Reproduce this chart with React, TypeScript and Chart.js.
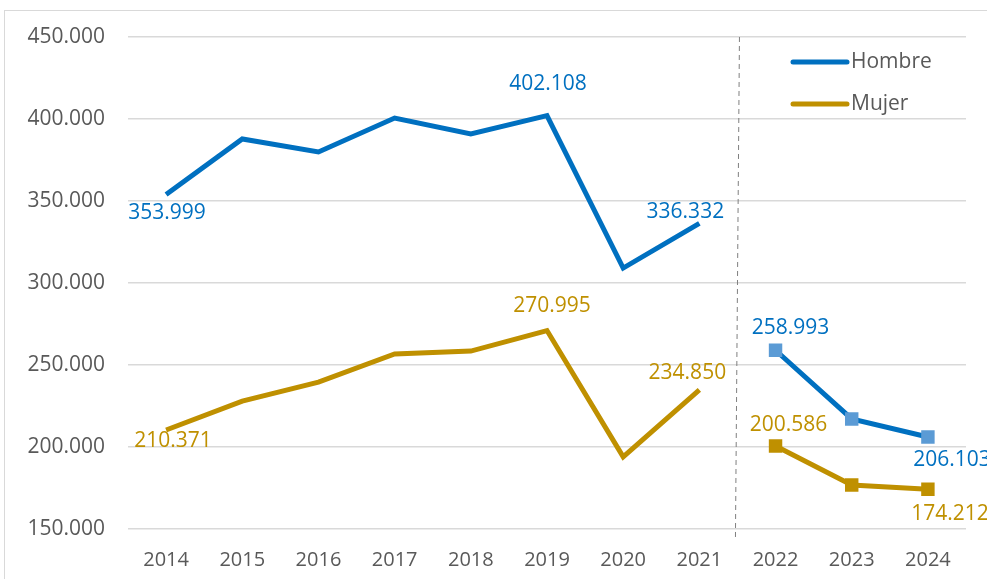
import React, { useEffect, useRef } from "react";
import { Chart, registerables } from "chart.js";

Chart.register(...registerables);

// ---- Data ----
const years = ["2014", "2015", "2016", "2017", "2018", "2019", "2020", "2021", "2022", "2023", "2024"];
const seriesNames = ["Hombre", "Mujer"];
const hombreReal = [353999, 387800, 379900, 400600, 390900, 402108, 309100, 336332, null, null, null];
const hombreProy = [null, null, null, null, null, null, null, null, 258993, 217100, 206103];
const mujerReal = [210371, 228000, 239600, 256700, 258500, 270995, 194000, 234850, null, null, null];
const mujerProy = [null, null, null, null, null, null, null, null, 200586, 176800, 174212];
const yMin = 150000;
const yMax = 450000;
const yStep = 50000;

// indices of points that carry a value label, per dataset
const hombreRealLabels = [0, 5, 7];
const hombreProyLabels = [8, 10];
const mujerRealLabels = [0, 5, 7];
const mujerProyLabels = [8, 10];

// ---- Styles ----
const BLUE = "#0070C0";
const BLUE_MARK = "#5B9BD5";
const GOLD = "#BF9000";
const GRAY_TXT = "#595959";
const GRID = "#D9D9D9";
const FONT = "'Open Sans', 'Noto Sans', sans-serif";

const fmt = (v: number) => String(Math.round(v)).replace(/\B(?=(\d{3})+(?!\d))/g, ".");

// label offsets (dx, dy) relative to the point, style only
const labelOffsets: Record<string, [number, number][]> = {
  hombreReal: [[1, 19], [1, -32], [-14, -11]],
  hombreProy: [[15, -22], [24, 23]],
  mujerReal: [[7, 11], [5, -25], [-12, -17]],
  mujerProy: [[13, -21], [22, 25]],
};

const labelPlugin = {
  id: "valueLabels",
  afterDatasetsDraw(chart: any) {
    const ctx = chart.ctx;
    ctx.save();
    ctx.font = `21px ${FONT}`;
    ctx.textAlign = "center";
    ctx.textBaseline = "middle";
    chart.data.datasets.forEach((ds: any, di: number) => {
      const meta = chart.getDatasetMeta(di);
      const idxs: number[] = ds.labelIdx || [];
      const offs = labelOffsets[ds.key] || [];
      ctx.fillStyle = ds.labelColor;
      idxs.forEach((i, k) => {
        const el = meta.data[i];
        const v = ds.data[i];
        if (!el || v == null) return;
        const [dx, dy] = offs[k] || [0, -20];
        ctx.fillText(fmt(v), el.x + dx, el.y + dy);
      });
    });
    ctx.restore();
  },
};

const dividerPlugin = {
  id: "divider",
  beforeDatasetsDraw(chart: any) {
    const xs = chart.scales.x;
    const area = chart.chartArea;
    const x = (xs.getPixelForValue(7) + xs.getPixelForValue(8)) / 2;
    const ctx = chart.ctx;
    ctx.save();
    ctx.strokeStyle = "#7F7F7F";
    ctx.lineWidth = 1;
    ctx.setLineDash([5, 4]);
    ctx.beginPath();
    ctx.moveTo(x + 2, area.top);
    ctx.lineTo(x - 2, area.bottom + 8);
    ctx.stroke();
    ctx.restore();
  },
};

const legendPlugin = {
  id: "insideLegend",
  afterDraw(chart: any) {
    const ctx = chart.ctx;
    const area = chart.chartArea;
    const colors = [BLUE, GOLD];
    const x0 = area.right - 173;
    ctx.save();
    ctx.font = `21px ${FONT}`;
    ctx.textBaseline = "middle";
    ctx.textAlign = "left";
    seriesNames.forEach((name, i) => {
      const y = area.top + 25 + i * 42;
      ctx.strokeStyle = colors[i];
      ctx.lineWidth = 5;
      ctx.lineCap = "round";
      ctx.beginPath();
      ctx.moveTo(x0, y);
      ctx.lineTo(x0 + 54, y);
      ctx.stroke();
      ctx.fillStyle = GRAY_TXT;
      ctx.fillText(name, x0 + 58, y);
    });
    ctx.restore();
  },
};

export default function App() {
  const ref = useRef<HTMLCanvasElement | null>(null);

  useEffect(() => {
    if (!ref.current) return;
    const chart = new Chart(ref.current, {
      type: "line",
      data: {
        labels: years,
        datasets: [
          {
            key: "hombreReal",
            label: seriesNames[0],
            data: hombreReal,
            borderColor: BLUE,
            borderWidth: 5,
            pointRadius: 0,
            tension: 0,
            labelIdx: hombreRealLabels,
            labelColor: BLUE,
          },
          {
            key: "hombreProy",
            label: seriesNames[0] + " proy",
            data: hombreProy,
            borderColor: BLUE,
            borderWidth: 5,
            pointStyle: "rect",
            pointRadius: 9.5,
            pointBackgroundColor: BLUE_MARK,
            pointBorderWidth: 0,
            tension: 0,
            labelIdx: hombreProyLabels,
            labelColor: BLUE,
          },
          {
            key: "mujerReal",
            label: seriesNames[1],
            data: mujerReal,
            borderColor: GOLD,
            borderWidth: 5,
            pointRadius: 0,
            tension: 0,
            labelIdx: mujerRealLabels,
            labelColor: GOLD,
          },
          {
            key: "mujerProy",
            label: seriesNames[1] + " proy",
            data: mujerProy,
            borderColor: GOLD,
            borderWidth: 5,
            pointStyle: "rect",
            pointRadius: 9.5,
            pointBackgroundColor: GOLD,
            pointBorderWidth: 0,
            tension: 0,
            labelIdx: mujerProyLabels,
            labelColor: GOLD,
          },
        ] as any,
      },
      options: {
        animation: false,
        responsive: false,
        spanGaps: false,
        layout: { padding: { top: 37, right: 21, left: 0, bottom: 0 } },
        plugins: {
          legend: { display: false },
          tooltip: { enabled: false },
          title: { display: false },
        },
        scales: {
          x: {
            offset: true,
            grid: { display: false },
            border: { display: false },
            ticks: {
              color: GRAY_TXT,
              font: { family: FONT, size: 20 },
              padding: 11,
              maxRotation: 0,
            },
            afterFit: (s: any) => {
              s.height = 50;
            },
          },
          y: {
            min: yMin,
            max: yMax,
            grid: { color: GRID, lineWidth: 1.5, drawTicks: false },
            border: { display: false },
            ticks: {
              stepSize: yStep,
              color: GRAY_TXT,
              font: { family: FONT, size: 21 },
              padding: 23,
              callback: (v: any) => fmt(Number(v)),
            },
            afterFit: (s: any) => {
              s.width = 128;
            },
          },
        },
      } as any,
      plugins: [dividerPlugin, labelPlugin, legendPlugin],
    });
    return () => chart.destroy();
  }, []);

  return (
    <div
      style={{
        position: "absolute",
        left: 0,
        top: 0,
        width: 987,
        height: 579,
        overflow: "hidden",
        background: "#fff",
      }}
    >
      <div
        style={{
          position: "absolute",
          left: 4,
          top: 10,
          width: 1200,
          height: 800,
          border: `1px solid ${GRID}`,
        }}
      />
      <canvas ref={ref} width={987} height={579} style={{ position: "absolute", left: 0, top: 0 }} />
    </div>
  );
}
